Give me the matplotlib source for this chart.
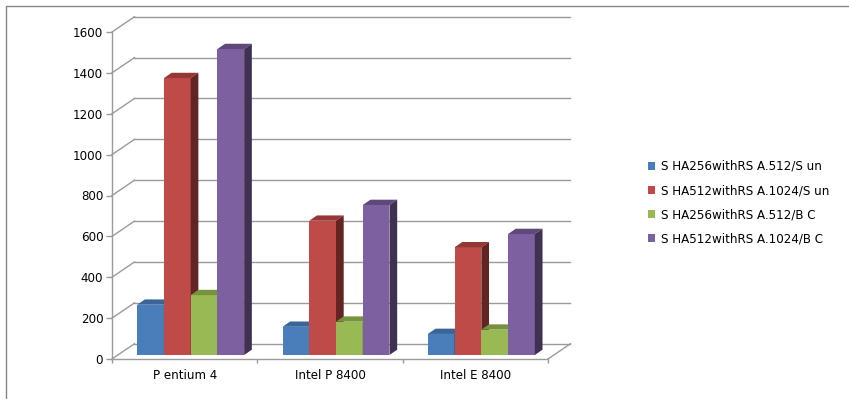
import matplotlib
matplotlib.use("Agg")
import matplotlib.pyplot as plt
from matplotlib.patches import Polygon
from matplotlib.lines import Line2D

###############################################################################
# data
categories = ['P entium 4', 'Intel P 8400', 'Intel E 8400']
series = ['S HA256withRS A.512/S un', 'S HA512withRS A.1024/S un',
          'S HA256withRS A.512/B C', 'S HA512withRS A.1024/B C']
sha256_sun = [246, 138, 103]
sha512_sun = [1355, 657, 527]
sha256_bc = [293, 163, 124]
sha512_bc = [1497, 734, 592]
values = [sha256_sun, sha512_sun, sha256_bc, sha512_bc]
yticks = list(range(0, 1601, 200))

front_cols = ['#4A7EBB', '#BE4B48', '#98B954', '#7D60A0']
top_cols = ['#3A6598', '#953735', '#76923C', '#5F497A']
side_cols = ['#254061', '#632523', '#4F6228', '#3F3151']
grid_col = '#9a9a9a'
fsize = 8.6

###############################################################################
# figure, front plane of the pseudo 3D box
W, H = 849, 399
fig = plt.figure(figsize=(W / 100, H / 100), dpi=100)
ax = fig.add_axes([112 / W, 40 / H, 436 / W, 327 / H])
ax.set_xlim(-0.5, 2.5)
ax.set_ylim(0, 1600)

# pixel -> data units
px_x = 3.0 / 436
px_y = 1600.0 / 327
wall_dx, wall_dy = 22.5 * px_x, 15.3 * px_y    # back wall depth
fr_dx, fr_dy = 6.0 * px_x, 4.0 * px_y         # bar front offset
bd_dx, bd_dy = 7.7 * px_x, 5.3 * px_y         # bar depth
bw = 0.184

for s in ['top', 'right']:
    ax.spines[s].set_visible(False)
for s in ['left', 'bottom']:
    ax.spines[s].set_color(grid_col)
    ax.spines[s].set_linewidth(1.0)

ax.set_yticks(yticks)
ax.tick_params(axis='y', direction='out', length=4.3, width=1.0,
               color=grid_col, pad=2, labelsize=fsize)
ax.set_xticks([-0.5, 0.5, 1.5, 2.5])
ax.set_xticklabels([])
ax.set_xticks([0, 1, 2], minor=True)
ax.set_xticklabels(categories, minor=True)
ax.tick_params(axis='x', which='major', direction='out', length=3,
               width=1.0, color=grid_col)
ax.tick_params(axis='x', which='minor', length=0, pad=7, labelsize=fsize)

# back wall grid + left wall diagonals
for v in yticks:
    ax.plot([-0.5 + wall_dx, 2.5 + wall_dx], [v + wall_dy, v + wall_dy],
            color=grid_col, lw=1.0, clip_on=False, zorder=1)
    ax.plot([-0.5, -0.5 + wall_dx], [v, v + wall_dy],
            color=grid_col, lw=1.0, clip_on=False, zorder=1)
ax.plot([2.5, 2.5 + wall_dx], [0, wall_dy], color=grid_col, lw=1.0,
        clip_on=False, zorder=1)

###############################################################################
# bars
handles = []
for k, vals in enumerate(values):
    xs = [i + (k - 2) * bw + fr_dx for i in range(len(categories))]
    bars = ax.bar(xs, vals, width=bw, bottom=fr_dy, align='edge',
                  color=front_cols[k], zorder=10 + 3 * k, clip_on=False,
                  label=series[k])
    handles.append(bars)
    for x0, v in zip(xs, vals):
        x1 = x0 + bw
        y0, y1 = fr_dy, fr_dy + v
        top = Polygon([(x0, y1), (x1, y1), (x1 + bd_dx, y1 + bd_dy),
                       (x0 + bd_dx, y1 + bd_dy)], closed=True,
                      facecolor=top_cols[k], edgecolor='none',
                      zorder=11 + 3 * k, clip_on=False)
        side = Polygon([(x1, y0), (x1 + bd_dx, y0 + bd_dy),
                        (x1 + bd_dx, y1 + bd_dy), (x1, y1)], closed=True,
                       facecolor=side_cols[k], edgecolor='none',
                       zorder=11 + 3 * k, clip_on=False)
        ax.add_patch(top)
        ax.add_patch(side)

leg = fig.legend(handles, series, loc='upper left',
                 bbox_to_anchor=(642 / W, 1 - 154 / H), frameon=False,
                 fontsize=fsize, handlelength=0.6, handleheight=0.6,
                 handletextpad=0.45, labelspacing=0.93, borderpad=0)

# outer frame (top and left edges only visible)
fig.add_artist(Line2D([6 / W, 6 / W, 1], [0, 1 - 5.5 / H, 1 - 5.5 / H],
                      transform=fig.transFigure, color='#868686', lw=1.0))

fig.savefig('out.png', dpi=100)
